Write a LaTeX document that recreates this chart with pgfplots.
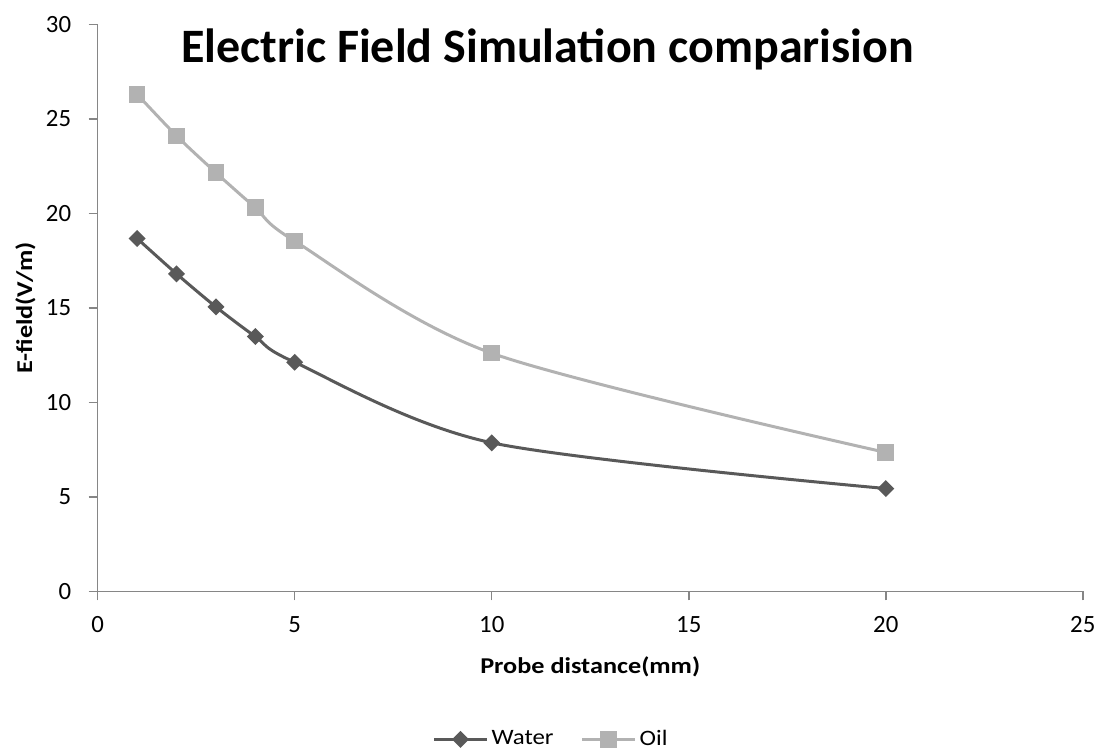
\documentclass[border=0pt]{standalone}
\usepackage{fontspec}
\setmainfont{Carlito}
\newfontfamily\widefont{Carlito}[FakeStretch=1.16]
\newfontfamily\legfont{Carlito}[FakeStretch=1.13]
\usepackage{pgfplots}
\pgfplotsset{compat=1.18}
\definecolor{water}{RGB}{89,89,89}
\definecolor{oil}{RGB}{178,178,178}
\definecolor{axisgray}{RGB}{134,134,134}
\begin{document}
\begin{tikzpicture}
\useasboundingbox (-48.85pt,-78.5pt) rectangle (499.1pt,295.65pt);
\begin{axis}[
  at={(0pt,0pt)}, anchor=south west,
  scale only axis, width=492.5pt, height=283.5pt,
  xmin=0, xmax=25, ymin=0, ymax=30,
  xtick={0,5,...,25}, ytick={0,5,...,30},
  axis x line*=bottom, axis y line*=left,
  axis line style={axisgray, line width=0.75pt, -},
  tick align=outside, major tick length=4.5pt,
  tick style={axisgray, line width=0.75pt},
  /pgf/number format/assume math mode=true,
  xticklabel={\pgfmathprintnumber{\tick}},
  yticklabel={\pgfmathprintnumber{\tick}},
  tick label style={font=\fontsize{12.4}{14}\selectfont, text=black},
  yticklabel style={inner sep=0pt, xshift=-8.6pt},
  xticklabel style={inner sep=0pt, yshift=-7.8pt},
  xlabel={Probe distance(mm)},
  xlabel style={font=\widefont\fontsize{11.3}{14}\selectfont\bfseries, at={(0.5,-0.1446)}, anchor=base},
  ylabel={E-field(V/m)},
  ylabel style={font=\widefont\fontsize{11.3}{14}\selectfont\bfseries, at={(-0.0667,0.5)}, anchor=base},
  legend columns=2,
  legend style={at={(0.4607,-0.261)}, anchor=center, draw=none, fill=none,
    font=\legfont\fontsize{11}{13}\selectfont, inner sep=0pt,
    nodes={inner sep=1.5pt},
    /tikz/every even column/.append style={column sep=12pt}},
  legend cell align=left,
  legend image code/.code={\draw[mark repeat=2,mark phase=2] plot coordinates {(0pt,0pt) (13.25pt,0pt) (26.5pt,0pt)};},
]
\addplot[water, line width=1.5pt, smooth, mark=square*, mark size=2.25pt, mark options={rotate=45, solid, fill=water}]
  coordinates {(1,18.67) (2,16.8) (3,15.05) (4,13.48) (5,12.12) (10,7.86) (20,5.44)};
\addlegendentry{Water}
\addplot[oil, line width=1.5pt, smooth, mark=square*, mark size=3.4pt, mark options={solid, fill=oil}]
  coordinates {(1,26.3) (2,24.1) (3,22.15) (4,20.3) (5,18.53) (10,12.6) (20,7.35)};
\addlegendentry{Oil}
\node[anchor=base, font=\fontsize{24}{28}\selectfont\bfseries, inner sep=0pt]
  at (axis description cs:0.4567,0.9335) {Electric Field Simulation comparision};
\end{axis}
\end{tikzpicture}
\end{document}
